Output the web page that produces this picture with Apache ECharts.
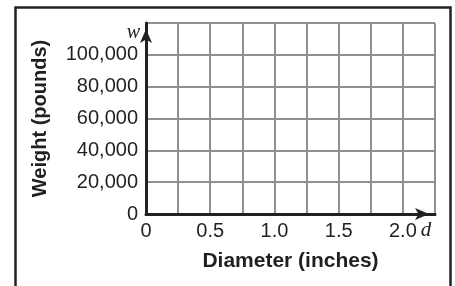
<!DOCTYPE html>
<html>
<head>
<meta charset="utf-8">
<script src="https://cdn.jsdelivr.net/npm/echarts@6/dist/echarts.min.js"></script>
<style>
  html, body { margin: 0; padding: 0; background: #fff; }
  #chart { width: 455px; height: 286px; }
</style>
</head>
<body>
<div id="chart"></div>
<script>
// axis ranges and labels (empty grid, no series data)
const xMin = 0, xMax = 2.25, xStep = 0.25;
const yMin = 0, yMax = 120000, yStep = 20000;
const xLabelled = [0, 0.5, 1.0, 1.5, 2.0];
const yLabelled = [0, 20000, 40000, 60000, 80000, 100000];

const ink = "#231f20";
const gridGray = "#8f9094";
const font = "Liberation Sans, Arial, Helvetica, sans-serif";

const chart = echarts.init(document.getElementById("chart"));

chart.setOption({
  animation: false,
  grid: { left: 146, top: 23, right: 20, bottom: 72 },
  xAxis: {
    type: "value",
    min: xMin,
    max: xMax,
    interval: xStep,
    name: "Diameter (inches)",
    nameLocation: "middle",
    nameGap: 37,
    nameTextStyle: { color: ink, fontSize: 21, fontWeight: "bold", fontFamily: font },
    axisLine: {
      show: true,
      lineStyle: { color: ink, width: 3 },
      symbol: ["none", "arrow"],
      symbolSize: [9, 14],
      symbolOffset: [0, -6],
    },
    axisTick: { show: false },
    axisLabel: {
      color: ink,
      fontSize: 20,
      fontFamily: font,
      margin: 7,
      showMaxLabel: true,
      formatter: function (v) {
        const hit = xLabelled.some((t) => Math.abs(t - v) < 1e-9);
        if (!hit) return "";
        return v === 0 ? "0" : v.toFixed(1);
      },
    },
    splitLine: { show: true, lineStyle: { color: gridGray, width: 2 } },
  },
  yAxis: {
    type: "value",
    min: yMin,
    max: yMax,
    interval: yStep,
    name: "Weight (pounds)",
    nameLocation: "middle",
    nameGap: 96,
    nameRotate: 90,
    nameTextStyle: { color: ink, fontSize: 20, fontWeight: "bold", fontFamily: font },
    axisLine: {
      show: true,
      lineStyle: { color: ink, width: 3 },
      symbol: ["none", "arrow"],
      symbolSize: [9, 14],
      symbolOffset: [0, -6],
    },
    axisTick: { show: false },
    axisLabel: {
      color: ink,
      fontSize: 20,
      fontFamily: font,
      margin: 8,
      formatter: function (v) {
        return yLabelled.indexOf(v) >= 0 ? v.toLocaleString("en-US") : "";
      },
    },
    splitLine: { show: true, lineStyle: { color: gridGray, width: 2 } },
  },
  graphic: [
    {
      type: "rect",
      left: 13,
      top: 5,
      shape: { width: 435, height: 300 },
      style: { fill: "none", stroke: "#222", lineWidth: 2.5 },
      silent: true,
    },
    {
      type: "text",
      x: 140,
      y: 33,
      style: {
        text: "w",
        fill: ink,
        font: "italic 20px 'Liberation Serif', 'Times New Roman', serif",
        textAlign: "right",
        textVerticalAlign: "middle",
      },
    },
    {
      type: "text",
      x: 426,
      y: 230,
      style: {
        text: "d",
        fill: ink,
        font: "italic 21px 'Liberation Serif', 'Times New Roman', serif",
        textAlign: "center",
        textVerticalAlign: "middle",
      },
    },
  ],
  series: [],
});
</script>
</body>
</html>
